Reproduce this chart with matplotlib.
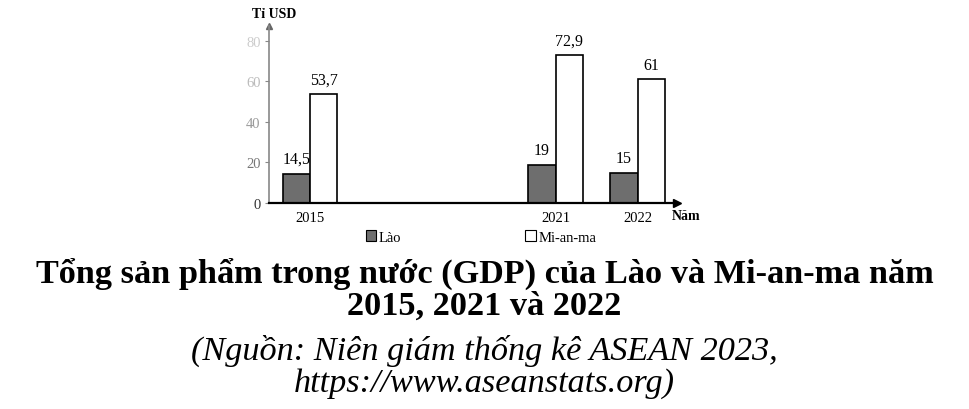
import matplotlib.pyplot as plt
from matplotlib.patches import Patch

years = ["2015", "2021", "2022"]
lao = [14.5, 19, 15]
myanmar = [53.7, 72.9, 61]
yticks = [0, 20, 40, 60, 80]

# category slots (2016-2020 left empty in the original)
slots = [0, 3, 4]
tick_grays = ["#333333", "#777777", "#999999", "#bbbbbb", "#cccccc"]


def fmt(v):
    return f"{v:g}".replace(".", ",")


def main():
    plt.rcParams["font.family"] = ["Liberation Serif", "DejaVu Serif"]

    fig = plt.figure(figsize=(9.69, 4.10), dpi=100)
    ax = fig.add_axes([269 / 969, 1 - 204 / 410, (677 - 269) / 969, (204 - 27) / 410])

    w = 0.335
    b1 = ax.bar([s - w / 2 for s in slots], lao, width=w, color="#6e6e6e",
                edgecolor="black", linewidth=1.2)
    b2 = ax.bar([s + w / 2 for s in slots], myanmar, width=w, color="white",
                edgecolor="black", linewidth=1.2)

    for bars, vals in [(b1, lao), (b2, myanmar)]:
        for r, v in zip(bars, vals):
            ax.annotate(fmt(v), (r.get_x() + r.get_width() / 2, v),
                        xytext=(0, 5), textcoords="offset points",
                        ha="center", va="bottom", fontsize=11.5)

    ax.set_xlim(-0.5, 4.48)
    ax.set_ylim(0, 87.4)
    ax.set_xticks(slots)
    ax.set_xticklabels(years, fontsize=10.5)
    ax.tick_params(axis="x", length=0, pad=6)
    ax.set_yticks(yticks)
    ax.set_yticklabels([str(t) for t in yticks], fontsize=10.5)
    for lab, c in zip(ax.get_yticklabels(), tick_grays):
        lab.set_color(c)
    ax.tick_params(axis="y", length=3, color="#888888", pad=3)

    for s in ["top", "right"]:
        ax.spines[s].set_visible(False)
    ax.spines["left"].set_color("#888888")
    ax.spines["left"].set_linewidth(1.2)
    ax.spines["bottom"].set_linewidth(1.6)

    ax.plot(1, 0, ">k", markersize=6, transform=ax.transAxes, clip_on=False)
    ax.plot(0, 1, "^", color="#666666", markersize=5, transform=ax.transAxes,
            clip_on=False)

    fig.text(274 / 969, 1 - 14 / 410, "Tỉ USD", ha="center", va="center",
             fontsize=10, fontweight="bold")
    fig.text(686 / 969, 1 - 217 / 410, "Năm", ha="center", va="center",
             fontsize=10, fontweight="bold")

    handles = [Patch(facecolor="#6e6e6e", edgecolor="black", linewidth=0.8),
               Patch(facecolor="white", edgecolor="black", linewidth=0.8)]
    fig.legend(handles, ["Lào", "Mi-an-ma"], loc="center",
               bbox_to_anchor=(481 / 969, 1 - 238 / 410), ncol=2, frameon=False,
               fontsize=10.5, handlelength=0.7, handleheight=0.7,
               handletextpad=0.2, columnspacing=8.5)

    fig.text(0.5, 1 - 274 / 410, "Tổng sản phẩm trong nước (GDP) của Lào và Mi-an-ma năm",
             ha="center", va="center", fontsize=24.7, fontweight="bold")
    fig.text(0.5, 1 - 306 / 410, "2015, 2021 và 2022",
             ha="center", va="center", fontsize=24.7, fontweight="bold")
    fig.text(0.5, 1 - 351 / 410, "(Nguồn: Niên giám thống kê ASEAN 2023,",
             ha="center", va="center", fontsize=24.7, style="italic")
    fig.text(0.5, 1 - 384 / 410, "https://www.aseanstats.org)",
             ha="center", va="center", fontsize=24.7, style="italic")

    fig.savefig("out.png", dpi=100)


if __name__ == "__main__":
    main()
